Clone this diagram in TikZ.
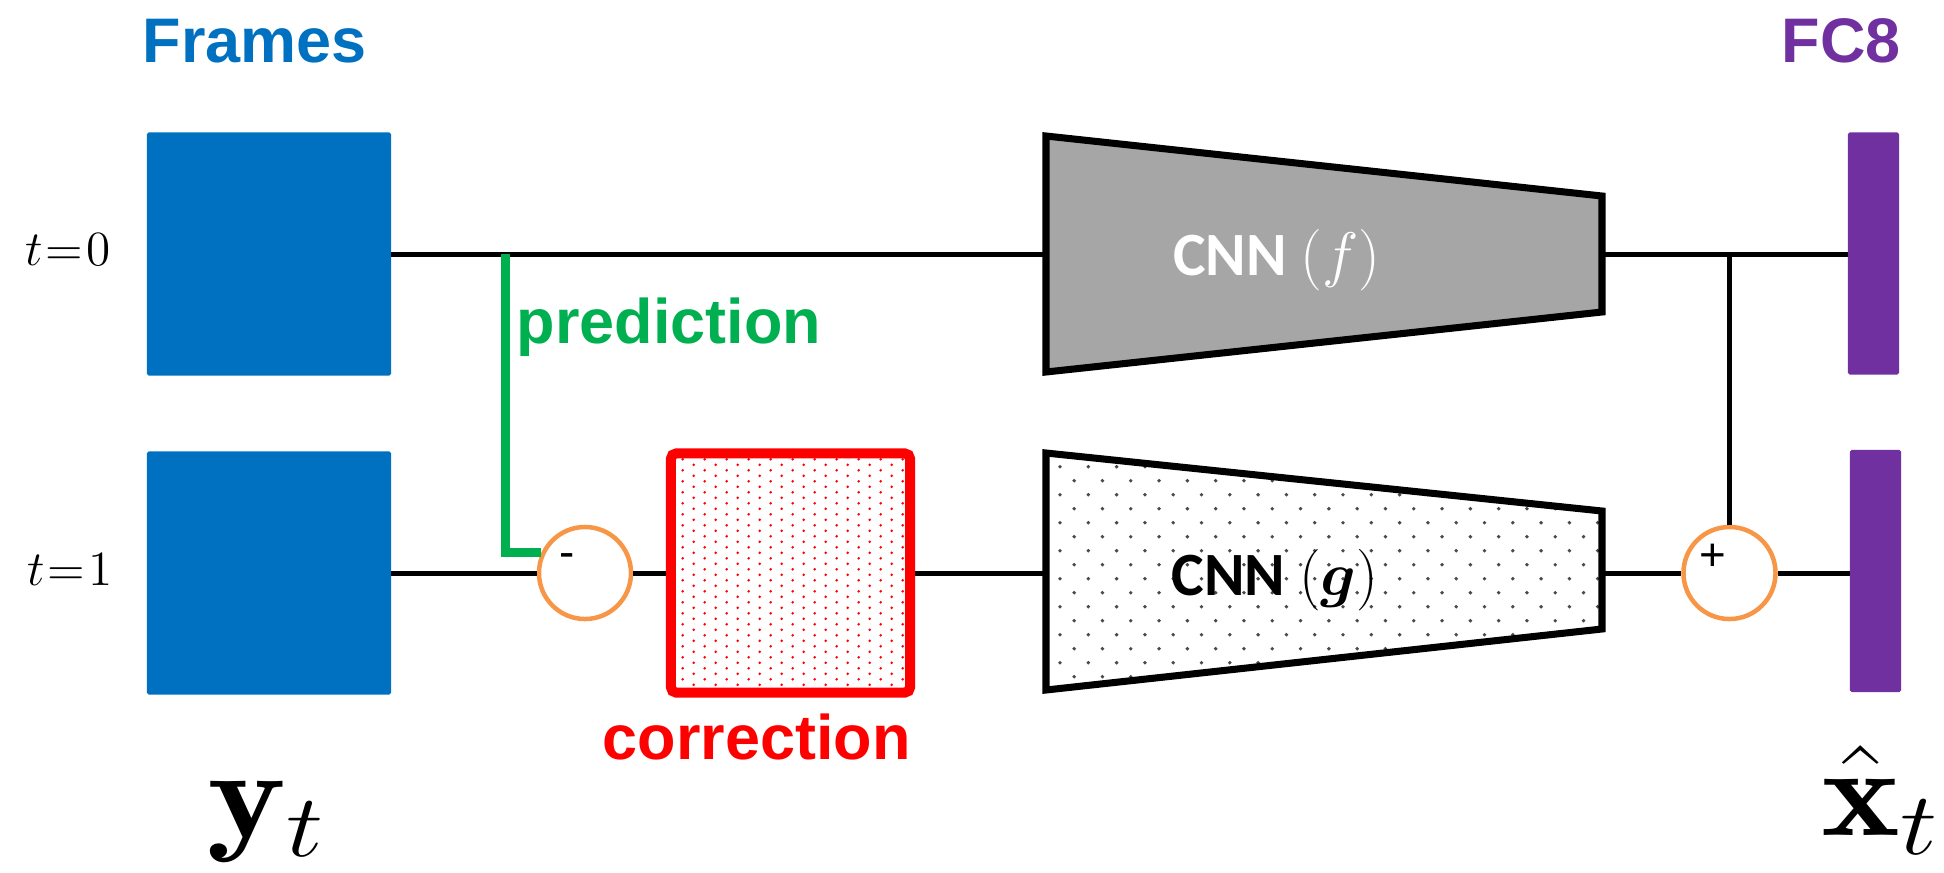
\RequirePackage{fix-cm}
\documentclass[tikz,border=0pt]{standalone}
\usepackage{amsmath,bm}
\usepackage{fontspec}
\newfontfamily\labelfont{Liberation Sans}
\newfontfamily\cnnfont{Carlito}

\definecolor{framecol}{HTML}{0070C0}
\definecolor{fccol}{HTML}{7030A0}
\definecolor{predcol}{HTML}{00B050}
\definecolor{corrcol}{HTML}{FF0000}
\definecolor{opcol}{HTML}{F79646}
\definecolor{cnngray}{HTML}{A6A6A6}
\definecolor{dotgray}{HTML}{4A4A4A}

\begin{document}
\begin{tikzpicture}[x=0.01cm,y=-0.01cm,
  framebox/.style={fill=framecol, draw=none, inner sep=0, outer sep=0,
    minimum width=2.44cm, minimum height=2.43cm, rounded corners=0.5pt},
  fcbar/.style={fill=fccol, draw=none, inner sep=0, outer sep=0,
    minimum width=0.51cm, minimum height=2.42cm, rounded corners=0.5pt},
  opnode/.style={circle, draw=opcol, line width=1.28pt, fill=white,
    minimum size=0.92cm, inner sep=0},
  corrbox/.style={draw=corrcol, line width=2.85pt, inner sep=0,
    minimum size=2.39cm, rounded corners=1.5pt},
  cnnshape/.style={draw=black, line width=2pt, line join=miter},
  wire/.style={draw=black, line width=1.42pt},
  predline/.style={draw=predcol, line width=2.56pt},
  biglabel/.style={inner sep=0, anchor=base west,
    font=\labelfont\bfseries\fontsize{17.9}{21}\selectfont},
  steplabel/.style={inner sep=0, anchor=west, font=\fontsize{14}{16}\selectfont},
  cnnlabel/.style={inner sep=0, font=\cnnfont\bfseries\fontsize{17.5}{20}\selectfont},
  signlabel/.style={inner sep=0, font=\labelfont\fontsize{13}{15}\selectfont},
  varlabel/.style={inner sep=0, anchor=base west, font=\fontsize{36}{40}\selectfont}]

\useasboundingbox (0,0) rectangle (1944,872);

% corner points of the two encoder trapezoids
\coordinate (fA) at (1046,136);
\coordinate (fB) at (1602,196);
\coordinate (fC) at (1602,312);
\coordinate (fD) at (1046,372);
\coordinate (gA) at (1046,453);
\coordinate (gB) at (1602,511);
\coordinate (gC) at (1602,629);
\coordinate (gD) at (1046,690);
\coordinate (fin) at (1046,254);
\coordinate (fout) at (1602,254);
\coordinate (gin) at (1046,573);
\coordinate (gout) at (1602,573);

% dotted texture of the correction block (staggered rows)
\begin{scope}
  \clip (671,453) rectangle (910,692);
  \foreach \i in {0,...,42} {
    \foreach \j in {0,...,10} {
      \fill[corrcol] ({682.7+22*\j+11*mod(\i,2)},{459.3+5.5*\i}) circle[radius=0.4pt];
    }
  }
\end{scope}

% dotted texture of CNN (g) (staggered rows)
\begin{scope}
  \clip (gA) -- (gB) -- (gC) -- (gD) -- cycle;
  \foreach \i in {0,...,16} {
    \foreach \j in {0,...,20} {
      \fill[dotgray] ({1060+28.3*\j+14.15*mod(\i,2)},{466.7+14*\i}) circle[radius=0.55pt];
    }
  }
\end{scope}

% encoders
\draw[cnnshape, fill=cnngray] (fA) -- (fB) -- (fC) -- (fD) -- cycle;
\draw[cnnshape] (gA) -- (gB) -- (gC) -- (gD) -- cycle;
\node[cnnlabel, text=white] (flbl) at (1277,260.5) {CNN $(f)$};
\node[cnnlabel, text=black] (glbl) at (1275,580) {CNN $(\boldsymbol{g})$};

% frames and FC8 outputs
\node[framebox] (y0) at (269,254) {};
\node[framebox] (y1) at (269,573) {};
\node[fcbar] (x0) at (1873.5,253.5) {};
\node[fcbar] (x1) at (1875.5,571) {};

% subtraction, correction and addition
\node[opnode] (minus) at (585,573) {};
\node[signlabel] (minuslbl) at (567,561) {-};
\node[corrbox] (corr) at (790.5,573) {};
\node[opnode] (plus) at (1729.5,573) {};
\node[signlabel] (pluslbl) at (1713,557) {+};

% labels
\node[biglabel, text=framecol] (frameslbl) at (142,62) {Frames};
\node[biglabel, text=fccol] (fclbl) at (1781,62) {FC8};
\node[biglabel, text=predcol] (predlbl) at (516,343) {prediction};
\node[biglabel, text=corrcol] (corrlbl) at (602,759) {correction};
\node[steplabel] (t0) at (25,250) {$t\mkern1mu{=}\mkern1mu0$};
\node[steplabel] (t1) at (27,570) {$t\mkern1mu{=}\mkern1mu1$};
\node[varlabel] (ylbl) at (207,837) {\scalebox{1.18}[1]{$\mathbf{y}_t$}};
\node[varlabel] (xlbl) at (1821,835) {\scalebox{1.18}[1]{$\hat{\mathbf{x}}_t$}};

% connections
\draw[wire] (y0.east) -- (fin);
\draw[wire] (fout) -- (fout -| x0.west);
\draw[wire] (plus.north |- fout) -- (plus.north);
\draw[wire] (y1.east) -- (minus.west);
\draw[wire] (minus.east) -- (corr.west);
\draw[wire] (corr.east) -- (gin);
\draw[wire] (gout) -- (plus.west);
\draw[wire] (plus.east) -- (plus.east -| x1.west);
\coordinate (predtap) at (505,254);
\draw[predline] (predtap) |- (minus.155);

\end{tikzpicture}
\end{document}
